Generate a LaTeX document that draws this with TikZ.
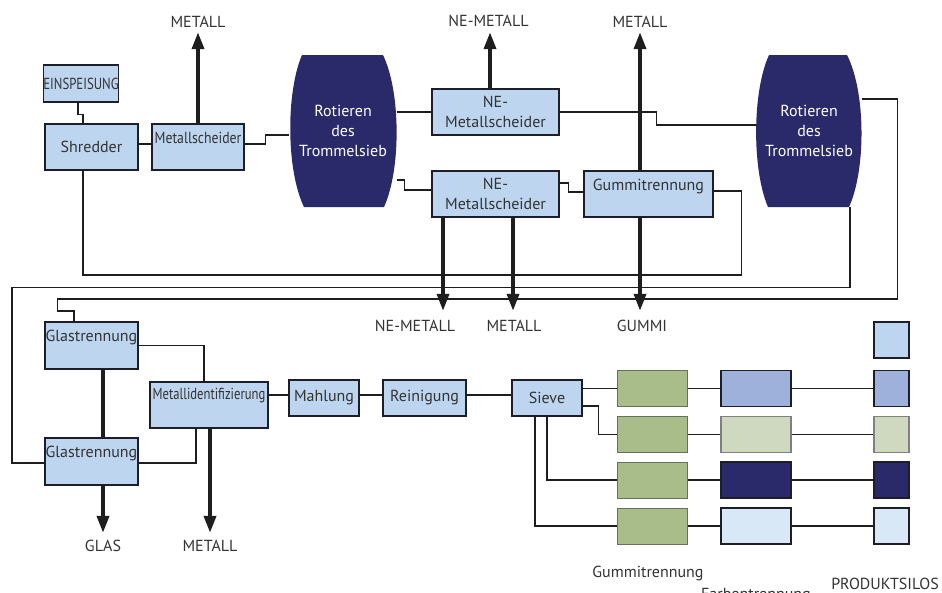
\documentclass[tikz,border=0pt]{standalone}
\usepackage{fontspec}
\setmainfont{PT Sans}
\usetikzlibrary{positioning,arrows.meta}
\definecolor{boxblue}{HTML}{BDD5EE}
\definecolor{edge}{HTML}{1E1E2A}
\definecolor{wire}{HTML}{1E1E1E}
\definecolor{txt}{HTML}{333333}
\definecolor{drumnavy}{HTML}{2A2A6B}
\definecolor{rgreen}{HTML}{A9BD8A}
\definecolor{rgreenline}{HTML}{66705C}
\definecolor{midblue}{HTML}{9DB1DA}
\definecolor{palegreen}{HTML}{CFD9BF}
\definecolor{paleblue}{HTML}{D9E8F6}

\begin{document}
\begin{tikzpicture}[x=1pt,y=-1pt,font=\fontsize{16}{20}\selectfont,
   box/.style={draw=edge,fill=boxblue,line width=1.6pt,inner sep=0pt,align=center,text=txt},
   toptext/.style={text height=11pt,text depth=19pt},
   drumtxt/.style={align=center,text=white,inner sep=0pt,minimum height=152pt},
   lbl/.style={inner sep=0pt,text=txt},
   link/.style={line width=1.3pt,draw=wire},
   big/.style={line width=3.6pt,draw=wire,-{Triangle[length=17pt,width=12pt]}},
   cell/.style={draw=edge,line width=1.4pt,minimum width=70pt,minimum height=36pt,inner sep=0pt},
   silo/.style={cell,minimum width=35pt},
   rubber/.style={cell,fill=rgreen,draw=rgreenline,line width=1pt}]
  \useasboundingbox (0,0) rectangle (942,592);
  % drums
  \fill[drumnavy] (302,55) -- (383,55) .. controls (401,92) and (401,170) .. (384,207) -- (304,207) .. controls (286,170) and (286,92) .. (302,55);
  \fill[drumnavy] (769,55) -- (847,55) .. controls (866,92) and (866,170) .. (849,207) -- (768,207) .. controls (752,170) and (752,92) .. (769,55);
  \node[drumtxt,minimum width=107pt] (drumA) at (343,131) {Rotieren\\des\\Trommelsieb};
  \node[drumtxt,minimum width=106pt] (drumB) at (809,131) {Rotieren\\des\\Trommelsieb};
  % upper line
  \node[box,minimum width=72pt,minimum height=37pt] (ein) at (81,83.5) {\scalebox{0.8}[1]{EINSPEISUNG}};
  \node[box,minimum width=93pt,minimum height=46pt] (shred) at (91.5,147) {Shredder};
  \node[box,toptext,minimum width=92pt,minimum height=46pt] (msA) at (198,147) {\scalebox{0.86}[1]{Metallscheider}};
  \node[box,minimum width=127pt,minimum height=46pt] (neA) at (495.5,112) {NE-\\Metallscheider};
  \node[box,minimum width=127pt,minimum height=46pt] (neB) at (495.5,194) {NE-\\Metallscheider};
  \node[box,toptext,minimum width=129pt,minimum height=46pt] (gumA) at (648.5,194) {Gummitrennung};
  \node[lbl,above=96pt of msA] (mA) {METALL};
  \node[lbl,above=61pt of neA,xshift=-7pt] (nmA) {NE-METALL};
  \node[lbl,above=143pt of gumA,xshift=-8.5pt] (mB) {METALL};
  \node[lbl,below=102pt of neB,xshift=-80.5pt] (nmB) {NE-METALL};
  \node[lbl,below=102pt of neB,xshift=18.5pt] (mC) {METALL};
  \node[lbl,below=102pt of gumA,xshift=-6.5pt] (gum) {GUMMI};
  % lower line
  \node[box,toptext,minimum width=93pt,minimum height=47pt] (glasA) at (91.5,345.5) {Glastrennung};
  \node[box,toptext,minimum width=93pt,minimum height=47pt] (glasB) at (91.5,461.5) {Glastrennung};
  \node[box,text height=11pt,text depth=23pt,minimum width=118pt,minimum height=46pt] (midf) at (209,405) {\scalebox{0.79}[1]{Metallidentifizierung}};
  \node[box,minimum width=70pt,minimum height=36pt] (mahl) at (324,398) {Mahlung};
  \node[box,minimum width=83pt,minimum height=36pt] (rein) at (424.5,398) {Reinigung};
  \node[box,minimum width=70pt,minimum height=36pt] (sieve) at (547,398) {Sieve};
  \node[lbl,below=54pt of glasB,xshift=11.5pt] (glas) {GLAS};
  \node[lbl,below=111pt of midf,xshift=1pt] (mD) {METALL};
  % product rows
  \node[silo,fill=boxblue] (s0) at (891.5,340) {};
  \node[rubber] (g1) at (652,388.5) {};
  \node[cell,fill=midblue] (f1) at (756,388.5) {};
  \node[silo,fill=midblue] (s1) at (891.5,388.5) {};
  \node[rubber] (g2) at (652,434.5) {};
  \node[cell,fill=palegreen,draw=gray] (f2) at (756,434.5) {};
  \node[silo,fill=palegreen,draw=gray] (s2) at (891.5,434.5) {};
  \node[rubber] (g3) at (652,480) {};
  \node[cell,fill=drumnavy] (f3) at (756,480) {};
  \node[silo,fill=drumnavy] (s3) at (891.5,480) {};
  \node[rubber] (g4) at (652,526) {};
  \node[cell,fill=paleblue] (f4) at (756,526) {};
  \node[silo,fill=paleblue] (s4) at (891.5,526) {};
  \node[lbl,below=21pt of g4,xshift=-4pt] (colG) {Gummitrennung};
  \node[lbl,below=43pt of f4] (colF) {Farbentrennung};
  \node[lbl,below=33pt of s4,xshift=-6.5pt] (colS) {PRODUKTSILOS};
  % connectors
  \draw[link] ([xshift=-3pt]ein.south) -- ++(0,12) -| ([xshift=-8.5pt]shred.north);
  \draw[link] ([yshift=3pt]shred.east) -- ([yshift=3pt]msA.west);
  \draw[link] ([yshift=3pt]msA.east) -- ++(21,0) |- ([yshift=-4pt]drumA.west);
  \draw[link] (drumA.east |- neA.west) -- (neA.west);
  \draw[link] ([yshift=-49pt]drumA.east) -- ++(8,0) |- ([yshift=4pt]neB.west);
  \draw[link] (neA.east) -- ++(97,0) |- ([yshift=6pt]drumB.west);
  \draw[link] ([yshift=11pt]neB.east) -- ++(9,0) |- ([yshift=2pt]gumA.west);
  \draw[link] ([yshift=3pt]gumA.east) -- ++(28,0) -- ++(0,84) -| ([xshift=-8.5pt]shred.south);
  \draw[link] ([xshift=41pt]drumB.south) -- ++(0,80) -- ++(-838,0) |- ([yshift=-1.5pt]glasB.west);
  \draw[link] ([yshift=32pt]drumB.east) -- ++(35,0) -- ++(0,200) -- ++(-840,0) -- ++(0,12) -| ([xshift=-17.5pt]glasA.north);
  \draw[link] (glasA.east) -| ([xshift=-5pt]midf.north);
  \draw[link] ([yshift=-1.5pt]glasB.east) -| ([xshift=-13pt]midf.south);
  \draw[link] ([yshift=3pt]midf.east |- mahl.west) -- ([yshift=3pt]mahl.west);
  \draw[link] ([yshift=3pt]mahl.east) -- ([yshift=3pt]rein.west);
  \draw[link] ([yshift=3pt]rein.east) -- ([yshift=3pt]sieve.west);
  \draw[link] (sieve.east |- g1.west) -- (g1.west);
  \draw[link] ([yshift=-8pt]sieve.east) -- ++(16,0) |- (g2.west);
  \draw[link] (sieve.south) |- (g3.west);
  \draw[link] ([xshift=-12pt]sieve.south) |- (g4.west);
  \draw[link] (g1) -- (f1) -- (s1);
  \draw[link] (g2) -- (f2) -- (s2);
  \draw[link] (g3) -- (f3) -- (s3);
  \draw[link] (g4) -- (f4) -- (s4);
  % product arrows
  \draw[big] (msA.north -| mA) -- ([yshift=-5pt]mA.south);
  \draw[big] ([xshift=-5.5pt]neA.north) -- ([xshift=1.5pt,yshift=-5pt]nmA.south);
  \draw[big] ([xshift=-8.5pt]gumA.north) -- ([xshift=0pt,yshift=-5pt]mB.south);
  \draw[big] ([xshift=-52.5pt]neB.south) -- ([xshift=28pt,yshift=9pt]nmB.north);
  \draw[big] ([xshift=17.5pt]neB.south) -- ([xshift=-1pt,yshift=9pt]mC.north);
  \draw[big] ([xshift=-8.5pt]gumA.south) -- ([xshift=-2pt,yshift=9pt]gum.north);
  \draw[line width=3.6pt,draw=wire] ([xshift=11.5pt]glasA.south) -- ([xshift=11.5pt]glasB.north);
  \draw[big] (glasB.south -| glas) -- ([yshift=7pt]glas.north);
  \draw[big] (midf.south -| mD) -- ([yshift=7pt]mD.north);
\end{tikzpicture}
\end{document}
